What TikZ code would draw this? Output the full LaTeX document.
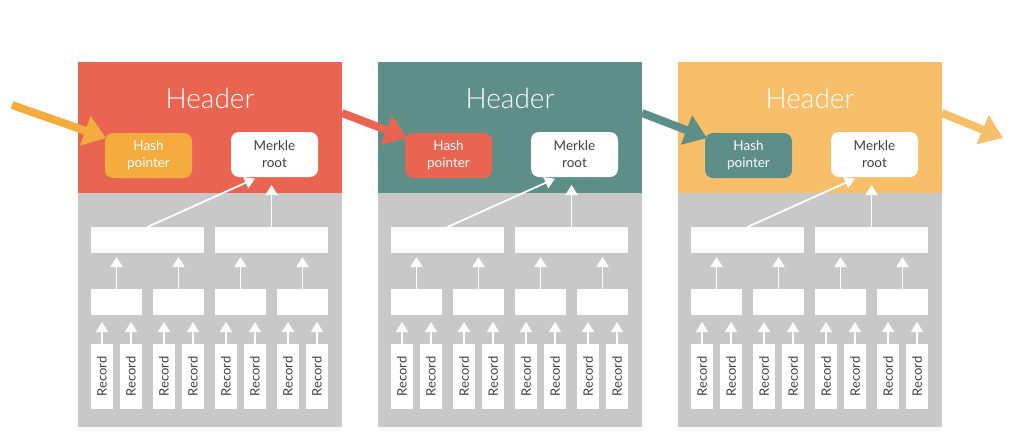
\documentclass[tikz,border=0pt]{standalone}
\usepackage{fontspec}
\usepackage{graphicx}
\setmainfont{Lato}
\newfontfamily\lightfont{Lato Light}
\usetikzlibrary{arrows.meta,calc}

\definecolor{hred}{HTML}{E96552}
\definecolor{hteal}{HTML}{5E8E88}
\definecolor{hlight}{HTML}{F8BF6B}
\definecolor{horange}{HTML}{F4AC3F}
\definecolor{bodygray}{HTML}{C8C8C8}
\definecolor{textgray}{HTML}{404040}

\begin{document}
\begin{tikzpicture}[x=1pt,y=-1pt,
    every node/.style={inner sep=0pt, outer sep=0pt},
    head/.style={fill=#1, minimum width=264pt, minimum height=131pt, anchor=north west},
    body/.style={fill=bodygray, minimum width=264pt, minimum height=234pt, anchor=north west},
    hashbox/.style={fill=#1, rounded corners=8pt, minimum width=87pt, minimum height=45pt,
      anchor=north west, text=white, align=center, font=\fontsize{13.5}{17}\selectfont},
    merklebox/.style={fill=white, rounded corners=8pt, minimum width=87pt, minimum height=45pt,
      anchor=north west, text=textgray, align=center, font=\fontsize{13.5}{17}\selectfont},
    bar/.style={fill=white, minimum height=26pt, anchor=north west},
    recbox/.style={fill=white, minimum width=22pt, minimum height=65pt, anchor=north west,
      text=textgray, font=\fontsize{13}{15}\selectfont},
    up/.style={draw=white, line width=1.8pt, -{Triangle[length=10pt,width=12pt]}},
    chain/.style={draw=#1, line width=8pt, -{Triangle[length=22pt,width=30pt]}}]

  \useasboundingbox (0,0) rectangle (1024,447);

  % the three blocks
  \foreach \b/\hc/\pc in {1/hred/horange, 2/hteal/hred, 3/hlight/hteal} {
    \pgfmathsetmacro{\bx}{78+300*(\b-1)}
    \node[body] (body\b) at (\bx,193) {};
    \node[head=\hc] (hdr\b) at (\bx,62) {};
    \node[text=white, font=\lightfont\fontsize{28}{30}\selectfont] (title\b) at (\bx+132,98) {Header};
    \node[hashbox=\pc] (hp\b) at (\bx+27,133) {Hash\\pointer};
    \node[merklebox] (mr\b) at (\bx+153,132) {Merkle\\root};
    \coordinate (tail\b) at (\bx+264,113);

    % merkle tree
    \node[bar, minimum width=113pt] (top\b-1) at (\bx+13,227) {};
    \node[bar, minimum width=113pt] (top\b-2) at (\bx+137,227) {};
    \draw[up, shorten >=4pt] (top\b-1.north) -- ($(mr\b.south)+(-16,0)$);
    \draw[up, shorten >=8pt] (top\b-2.north) -- (top\b-2.north |- mr\b.south);

    \foreach \k in {1,...,4} {
      \pgfmathsetmacro{\lx}{\bx+13+62*(\k-1)}
      \pgfmathtruncatemacro{\t}{(\k+1)/2}
      \node[bar, minimum width=51pt] (mid\b-\k) at (\lx,289) {};
      \node[recbox] (rec\b-\k-1) at (\lx,344) {\rotatebox{90}{Record}};
      \node[recbox] (rec\b-\k-2) at (\lx+29,344) {\rotatebox{90}{Record}};
      \draw[up, shorten >=4pt] (mid\b-\k.north) -- (mid\b-\k.north |- top\b-\t.south);
      \draw[up, shorten >=7pt] (rec\b-\k-1.north) -- (rec\b-\k-1.north |- mid\b-\k.south);
      \draw[up, shorten >=7pt] (rec\b-\k-2.north) -- (rec\b-\k-2.north |- mid\b-\k.south);
    }
  }

  % hash pointer chain
  \coordinate (in) at (12,105);
  \coordinate (out) at (1003,138);
  \draw[chain=horange] (in) -- ($(hp1.north west)+(1,5)$);
  \draw[chain=hred] (tail1) -- ($(hp2.north west)+(2,5)$);
  \draw[chain=hteal] (tail2) -- ($(hp3.north west)+(2,5)$);
  \draw[chain=hlight] (tail3) -- (out);

\end{tikzpicture}
\end{document}
